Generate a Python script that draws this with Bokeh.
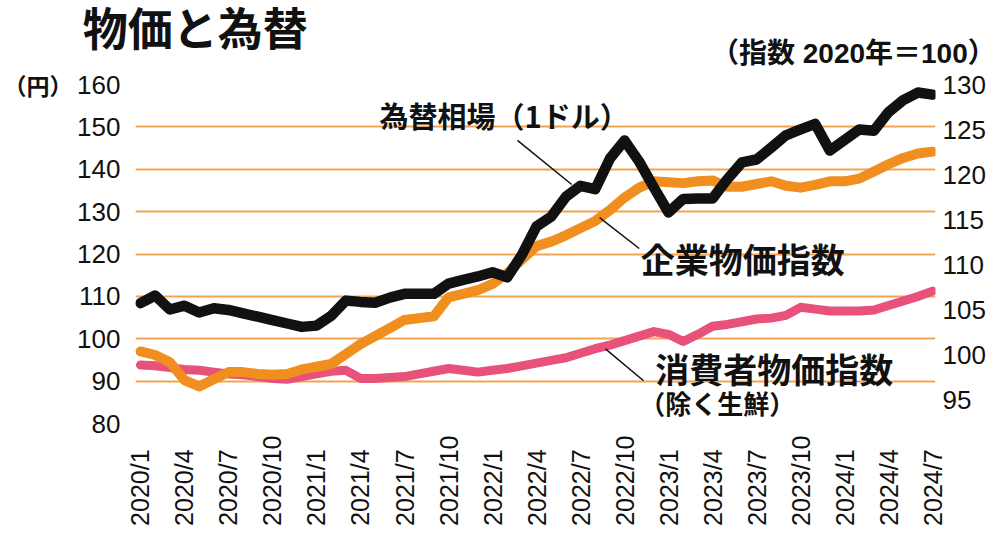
import math
from bokeh.plotting import figure
from bokeh.models import Range1d, LinearAxis, FixedTicker, ColumnDataSource
from bokeh.core.properties import value
from bokeh.embed import file_html
from bokeh.resources import INLINE

# ---------------- data ----------------
months = list(range(55))  # 2020/1 .. 2024/7
tick_months = [0, 3, 6, 9, 12, 15, 18, 21, 24, 27, 30, 33, 36, 39, 42, 45, 48, 51, 54]
tick_labels = ["2020/1", "2020/4", "2020/7", "2020/10", "2021/1", "2021/4", "2021/7",
               "2021/10", "2022/1", "2022/4", "2022/7", "2022/10", "2023/1", "2023/4",
               "2023/7", "2023/10", "2024/1", "2024/4", "2024/7"]

# USD/JPY (yen, left axis)
fx = [108.4, 110.2, 106.9, 107.8, 106.2, 107.2, 106.8, 106.0, 105.2, 104.4, 103.6, 102.8,
      103.1, 105.4, 109.0, 108.7, 108.5, 109.7, 110.6, 110.6, 110.6, 113.0, 113.9, 114.7,
      115.7, 114.5, 119.8, 126.5, 128.8, 133.5, 136.1, 135.3, 142.5, 146.8, 141.8, 135.7,
      129.8, 133.0, 133.1, 133.1, 137.6, 141.6, 142.3, 145.1, 148.0, 149.4, 150.7, 144.4,
      146.9, 149.4, 149.1, 153.5, 156.3, 158.1, 157.6]

# Corporate goods price index (2020=100, right axis)
cgpi = [100.4, 100.0, 99.2, 97.2, 96.5, 97.3, 98.1, 98.1, 97.9, 97.8, 97.9, 98.4,
        98.7, 99.0, 100.1, 101.2, 102.1, 103.0, 103.9, 104.1, 104.3, 106.4, 106.8, 107.2,
        107.9, 109.1, 110.6, 112.1, 112.6, 113.3, 114.1, 114.9, 116.1, 117.5, 118.6, 119.3,
        119.2, 119.1, 119.3, 119.4, 118.7, 118.7, 119.0, 119.3, 118.8, 118.6, 118.9, 119.3,
        119.3, 119.6, 120.4, 121.2, 121.9, 122.4, 122.6]

# Consumer price index excl. fresh food (2020=100, right axis)
cpi = [98.9, 98.8, 98.6, 98.4, 98.3, 98.1, 97.9, 97.8, 97.6, 97.4, 97.3, 97.6,
       97.9, 98.2, 98.3, 97.4, 97.4, 97.5, 97.6, 97.9, 98.2, 98.5, 98.3, 98.1,
       98.3, 98.5, 98.8, 99.1, 99.4, 99.7, 100.2, 100.7, 101.1, 101.6, 102.1, 102.6,
       102.3, 101.5, 102.3, 103.2, 103.4, 103.7, 104.0, 104.1, 104.4, 105.3, 105.1, 104.9,
       104.9, 104.9, 105.0, 105.5, 106.0, 106.5, 107.1]

left_ticks = [80, 90, 100, 110, 120, 130, 140, 150, 160]
right_ticks = [95, 100, 105, 110, 115, 120, 125, 130]

title_text = "物価と為替"
subtitle_text = "（指数 2020年＝100）"
yen_unit_text = "（円）"

# series labels (month, yen) and leader lines (month0, yen0, month1, yen1)
series_text = ["為替相場（1ドル）", "企業物価指数", "消費者物価指数", "（除く生鮮）"]
text_x = [16.3, 34.1, 35.1, 34.0]
text_y = [152.9, 118.9, 92.9, 84.9]
text_size = ["29px", "34px", "34px", "26px"]
lead_x0 = [25.7, 31.3, 31.7]
lead_y0 = [146.8, 128.6, 97.6]
lead_x1 = [29.4, 34.0, 34.3]
lead_y1 = [136.4, 121.3, 90.1]

# ---------------- figure ----------------
JP = "Noto Sans CJK JP"
HDR = "Liberation Sans, Noto Sans CJK JP"
NUM = "Liberation Sans"
INK = "#111111"
GRID = "#F4A44E"

p = figure(width=1000, height=534, output_backend="svg", toolbar_location=None,
           x_range=Range1d(-0.339, 54.2), y_range=Range1d(80, 160),
           min_border_left=131, min_border_right=65, min_border_top=84,
           min_border_bottom=111)
p.outline_line_color = None
p.background_fill_color = "white"
p.border_fill_color = "white"

# extra ranges: right index axis, and a pixel-like range for the header texts
p.extra_y_ranges = {"idx": Range1d(92.39, 130.06)}
p.extra_x_ranges = {"hdr": Range1d(131, 935)}


def bare(ax):
    ax.axis_line_color = None
    ax.major_tick_line_color = None
    ax.minor_tick_line_color = None
    ax.major_tick_out = 0
    ax.major_tick_in = 0
    ax.minor_tick_out = 0
    ax.minor_tick_in = 0


# left axis
bare(p.yaxis[0])
p.yaxis.ticker = FixedTicker(ticks=left_ticks)
p.yaxis.major_label_text_font = NUM
p.yaxis.major_label_text_font_size = "26px"
p.yaxis.major_label_text_color = INK
p.yaxis.major_label_standoff = 15

# unit label "(円)" next to 160, as a second left axis
ax_u = LinearAxis(ticker=FixedTicker(ticks=[160]), major_label_overrides={160: yen_unit_text})
bare(ax_u)
ax_u.major_label_text_font = JP
ax_u.major_label_text_font_style = "bold"
ax_u.major_label_text_font_size = "23px"
ax_u.major_label_text_color = INK
ax_u.major_label_standoff = 2
p.add_layout(ax_u, "left")

# grid
p.xgrid.visible = False
p.ygrid.ticker = FixedTicker(ticks=left_ticks)
p.ygrid.grid_line_color = GRID
p.ygrid.grid_line_width = 2

# right axis
ax_r = LinearAxis(y_range_name="idx", ticker=FixedTicker(ticks=right_ticks))
bare(ax_r)
ax_r.major_label_text_font = NUM
ax_r.major_label_text_font_size = "26px"
ax_r.major_label_text_color = INK
ax_r.major_label_standoff = 7
p.add_layout(ax_r, "right")

# bottom axis (labels padded with a figure space so their bottoms line up)
bare(p.xaxis[0])
p.xaxis.ticker = FixedTicker(ticks=tick_months)
p.xaxis.major_label_overrides = {
    m: (t if len(t) == 7 else t + "\u2007") for m, t in zip(tick_months, tick_labels)}
p.xaxis.major_label_orientation = math.pi / 2
p.xaxis.major_label_text_font = NUM
p.xaxis.major_label_text_font_size = "25px"
p.xaxis.major_label_text_color = INK
p.xaxis.major_label_standoff = 12

# header: subtitle (nearest the frame) and title, as label-only axes above
ax_sub = LinearAxis(x_range_name="hdr", ticker=FixedTicker(ticks=[862]),
                    major_label_overrides={862: subtitle_text})
bare(ax_sub)
ax_sub.major_label_text_font = HDR
ax_sub.major_label_text_font_style = "bold"
ax_sub.major_label_text_font_size = "28px"
ax_sub.major_label_text_color = INK
ax_sub.major_label_standoff = 16
p.add_layout(ax_sub, "above")

ax_title = LinearAxis(x_range_name="hdr", ticker=FixedTicker(ticks=[191]),
                      major_label_overrides={191: title_text})
bare(ax_title)
ax_title.major_label_text_font = HDR
ax_title.major_label_text_font_style = "bold"
ax_title.major_label_text_font_size = "45px"
ax_title.major_label_text_color = INK
ax_title.major_label_standoff = -21
p.add_layout(ax_title, "above")

src = ColumnDataSource(dict(m=months, fx=fx, cgpi=cgpi, cpi=cpi))

p.line(x="m", y="cpi", source=src, y_range_name="idx", line_width=9,
       line_color="#E8527A", line_join="round", line_cap="round")
p.line(x="m", y="cgpi", source=src, y_range_name="idx", line_width=10,
       line_color="#F08F20", line_join="round", line_cap="round")
p.line(x="m", y="fx", source=src, line_width=10.5,
       line_color=INK, line_join="round", line_cap="round")

# leader lines
p.segment(x0=lead_x0, y0=lead_y0, x1=lead_x1, y1=lead_y1, line_color=INK,
          line_width=1.5)

# series labels
p.text(x=text_x, y=text_y, text=series_text, text_font=value(JP),
       text_font_style="bold", text_font_size=text_size, text_color=INK,
       text_align="left", text_baseline="middle")

open("out.html", "w").write(file_html(p, INLINE))
